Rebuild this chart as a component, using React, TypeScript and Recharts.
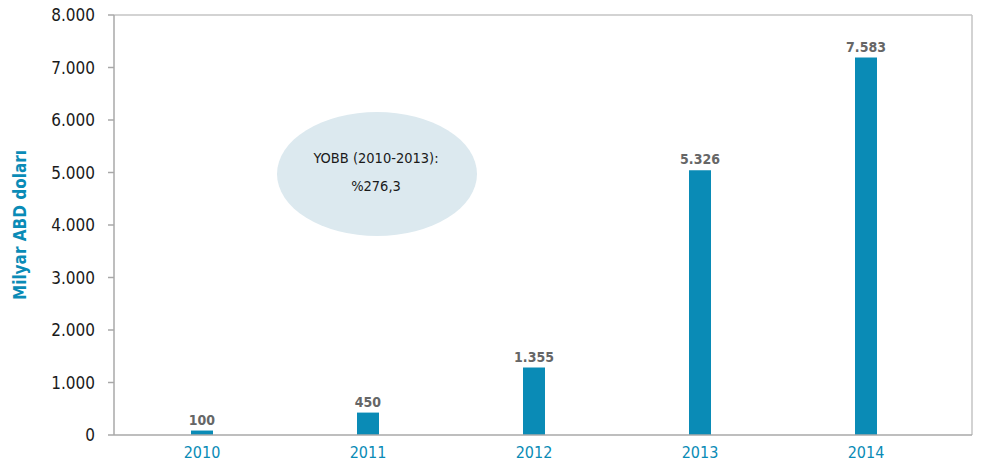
import { BarChart, Bar, XAxis, YAxis, LabelList, Label, Customized, ReferenceLine } from 'recharts';

const years = ['2010', '2011', '2012', '2013', '2014'];
// printed values above each bar
const printedValues = [100, 450, 1355, 5326, 7583];
// bar heights as they are drawn in the picture (a bit below the printed values)
const drawnValues = [85, 427, 1285, 5045, 7190];
const yTicks = [0, 1000, 2000, 3000, 4000, 5000, 6000, 7000, 8000];

const data = years.map((year, i) => ({
    year,
    height: drawnValues[i],
    label: printedValues[i],
}));

const FONT = '"Liberation Sans Narrow", "DejaVu Sans Condensed", "Roboto", sans-serif';
const BLUE = '#0a8bb6';

const fmt = (v: number) => String(v).replace(/\B(?=(\d{3})+(?!\d))/g, '.');

function Bubble() {
    return (
        <g>
            {/* right edge of the frame */}
            <line x1={972} y1={15} x2={972} y2={435} stroke="#c4c4c4" strokeWidth={1.5} />
            <ellipse cx={377} cy={174} rx={100} ry={62} fill="#dce9ef" />
            <text x={376} y={163} textAnchor="middle" fontFamily={FONT} fontSize={14.5} fill="#1a1a1a">
                YOBB (2010-2013):
            </text>
            <text x={376} y={191} textAnchor="middle" fontFamily={FONT} fontSize={14.5} fill="#1a1a1a">
                %276,3
            </text>
        </g>
    );
}

export default function App() {
    return (
        <div style={{ width: 982, height: 465, margin: '-8px 0 0 -8px' }}>
            <BarChart
                width={982}
                height={465}
                data={data}
                margin={{ top: 15, right: 10, bottom: 0, left: 0 }}
                barSize={22}
            >
                <XAxis
                    dataKey="year"
                    height={30}
                    padding={{ left: 5, right: 23 }}
                    tickLine={false}
                    tickSize={0}
                    tickMargin={12}
                    axisLine={{ stroke: '#a8a8a8', strokeWidth: 1.5 }}
                    tick={{ fill: BLUE, fontSize: 16, fontFamily: FONT }}
                />
                <YAxis
                    width={114}
                    domain={[0, 8000]}
                    ticks={yTicks}
                    tickFormatter={fmt}
                    tickSize={6}
                    tickMargin={13}
                    interval={0}
                    axisLine={{ stroke: '#a8a8a8', strokeWidth: 1.5 }}
                    tickLine={{ stroke: '#a8a8a8', strokeWidth: 1.5 }}
                    tick={{ fill: '#1a1a1a', fontSize: 17, fontFamily: FONT }}
                >
                    <Label
                        content={() => (
                            <text
                                x={20}
                                y={225}
                                transform="rotate(-90 20 225)"
                                textAnchor="middle"
                                dominantBaseline="central"
                                fontFamily={FONT}
                                fontSize={17}
                                fontWeight="bold"
                                fill={BLUE}
                            >
                                Milyar ABD doları
                            </text>
                        )}
                    />
                </YAxis>
                <ReferenceLine y={8000} stroke="#c4c4c4" strokeWidth={1.5} />
                <Customized component={Bubble} />
                <Bar dataKey="height" fill={BLUE} isAnimationActive={false}>
                    <LabelList
                        dataKey="label"
                        position="top"
                        offset={6}
                        formatter={(v: any) => fmt(Number(v))}
                        style={{ fill: '#666666', fontSize: 14, fontWeight: 'bold', fontFamily: FONT }}
                    />
                </Bar>
            </BarChart>
        </div>
    );
}
